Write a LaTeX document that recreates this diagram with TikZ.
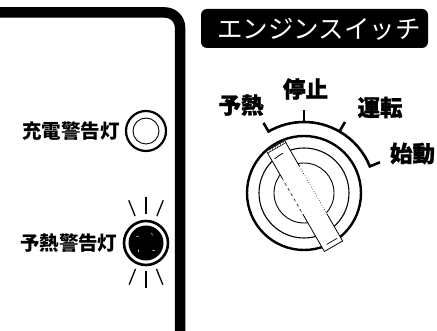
\documentclass[tikz,border=0pt]{standalone}
\usepackage{fontspec}
\newfontfamily\jp{Noto Sans CJK JP}[BoldFeatures={FakeBold=1.2}]
\newfontfamily\jpl{Noto Sans CJK JP}
\usetikzlibrary{positioning}

\begin{document}
\begin{tikzpicture}[x=1pt, y=1pt, every node/.style={font=\jp, inner sep=0pt},
		lbl/.style={font=\jpl\bfseries\fontsize{19.5}{20}\selectfont},
		mode/.style={font=\jp\bfseries\fontsize{22.5}{23}\selectfont},
		lamp/.style={draw, circle, line width=2.2pt, minimum size=40pt},
		ray/.style={line width=1.3pt},
		frame/.style={line width=10.5pt, rounded corners=15pt},
		dial/.style={line width=2.6pt}]
	\useasboundingbox (0,0) rectangle (437,331);
	% panel edge
	\draw[frame] (-8,318.5) -| (180,-8);
	% charge lamp
	\node[lamp] (chg) at (146,200) {};
	\draw[line width=0.9pt] (chg.center) circle[radius=13];
	\node[lbl, left=5pt of chg] (chgt) {充電警告灯};
	% glow lamp, lit
	\node[lamp, minimum size=44pt, line width=2.6pt] (glw) at (146,88) {};
	\fill (glw.center) circle[radius=17.5];
	\foreach \a in {-22,0,22} {
		\draw[ray] ([shift={(90+\a:29)}]glw.center) -- ([shift={(90+\a:46)}]glw.center);
		\draw[ray] ([shift={(270+\a:28)}]glw.center) -- ([shift={(270+\a:45)}]glw.center);
	}
	\foreach \a in {50,135,220,310}
		\draw[white, line width=0.5pt] ([shift={(\a:10)}]glw.center) -- ++(\a+60:2.5);
	\node[lbl, left=5pt of glw] (glwt) {予熱警告灯};
	% switch title
	\node[fill=black, rounded corners=6pt, minimum width=227pt, minimum height=39pt] (ttl) at (314.5,302.5) {};
	\node[text=white, font=\jp\fontsize{25.5}{26}\selectfont] (ttlt) at (319,302) {エンジンスイッチ};
	% key switch body
	\coordinate (sw) at (304,138);
	\draw[line width=2.4pt] (sw) circle[radius=57];
	\draw[line width=1.1pt] (sw) circle[radius=45];
	\draw[line width=0.9pt] (sw) circle[radius=30];
	% position scale
	\draw[dial] ([shift={(120:81)}]sw) -- ([shift={(120:71)}]sw)
		arc[start angle=120, end angle=22, radius=71] -- ([shift={(22:82)}]sw);
	\draw[dial] ([shift={(90:71)}]sw) -- ([shift={(90:83)}]sw);
	\draw[dial] ([shift={(60:71)}]sw) -- ([shift={(60:82)}]sw);
	\node[mode] (pre) at (241,226) {予熱};
	\node[mode] (off) at (305.5,242) {停止};
	\node[mode] (run) at (380,223.5) {運転};
	\node[mode] (st) at (412.5,177.5) {始動};
	% key blade
	\begin{scope}[shift={(304.5,135)}, rotate=30]
		\fill[white] (-10.5,-58) rectangle (10.5,58);
		\draw[line width=0.8pt] (-10.5,58) -- (10.5,58) (-10.5,-58) -- (10.5,-58);
		\draw[line width=0.8pt] (-10.5,58) -- (-10.5,27) (10.5,58) -- (10.5,28)
			(-10.5,-58) -- (-10.5,-15) (10.5,-58) -- (10.5,-27);
		\draw[line width=0.6pt, dashed] (-10.5,27) -- (-10.5,-15);
		\draw[line width=0.6pt, dotted] (10.5,28) -- (10.5,-27);
		\draw[line width=0.5pt] (-10.5,55.5) -- (10.5,55.5);
		\foreach \x in {-8,-5,...,8}
			\draw[line width=0.4pt] (\x,55.5) -- (\x+2,58);
		\draw[line width=0.7pt] (-5,-53) -- (7,-53);
	\end{scope}
	\draw[line width=0.8pt] ([shift={(118:45)}]sw) arc[start angle=118, end angle=131, radius=45];
\end{tikzpicture}
\end{document}
